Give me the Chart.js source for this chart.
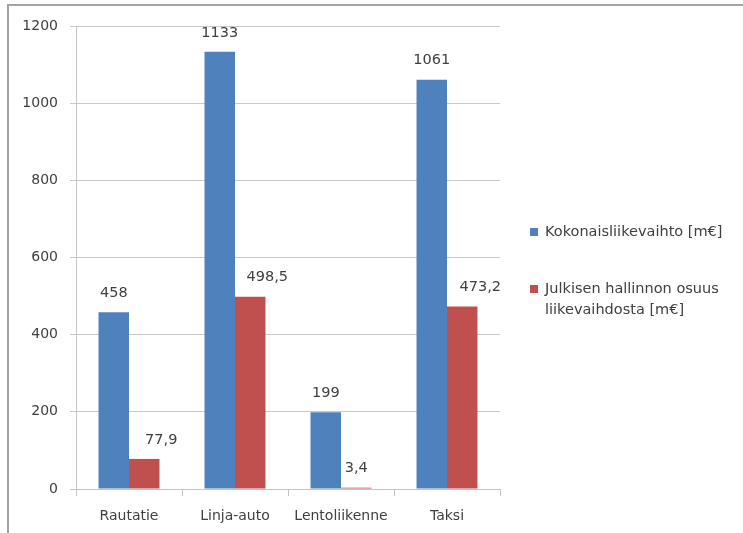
<!DOCTYPE html>
<html>
<head>
<meta charset="utf-8">
<script src="https://cdn.jsdelivr.net/npm/chart.js@4"></script>
<style>
  html, body { margin: 0; padding: 0; background: #ffffff; overflow: hidden; width: 743px; height: 533px; }
  #frame {
    position: absolute; left: 7px; top: 4px; right: 0; bottom: 0;
    border-top: 2px solid #a3a3a3; border-left: 2px solid #a3a3a3;
  }
  #c { position: absolute; left: 0; top: 0; }
</style>
</head>
<body>
<div id="frame"></div>
<canvas id="c" width="743" height="533"></canvas>
<script>
// Liikennemuodot ja niiden liikevaihto (milj. €)
const categories = ['Rautatie', 'Linja-auto', 'Lentoliikenne', 'Taksi'];
const totalRevenue = [458, 1133, 199, 1061];
const publicShare = [77.9, 498.5, 3.4, 473.2];
const seriesNames = ['Kokonaisliikevaihto [m€]', 'Julkisen hallinnon osuus liikevaihdosta [m€]'];
const yTicks = [0, 200, 400, 600, 800, 1000, 1200];

const BLUE = '#4f81bd';
const RED = '#c0504d';
const TEXT = '#404040';
const FONT = 'DejaVu Sans';

// horizontal nudge of the value labels, per series and category
const labelShift = [[0, 0, 0, 0], [17, 17, 0, 18]];

const fmt = v => String(v).replace('.', ',');

const valueLabels = {
  id: 'valueLabels',
  afterDatasetsDraw(chart) {
    const ctx = chart.ctx;
    ctx.save();
    ctx.font = '14.5px "' + FONT + '"';
    ctx.fillStyle = TEXT;
    ctx.textAlign = 'center';
    ctx.textBaseline = 'middle';
    chart.data.datasets.forEach((ds, i) => {
      chart.getDatasetMeta(i).data.forEach((bar, j) => {
        ctx.fillText(fmt(ds.data[j]), bar.x + labelShift[i][j], bar.y - 19);
      });
    });
    ctx.restore();
  }
};

const sideLegend = {
  id: 'sideLegend',
  afterDraw(chart) {
    const ctx = chart.ctx;
    const area = chart.chartArea;
    const x0 = area.right + 30;
    const tx = x0 + 15;
    const maxW = chart.width - tx - 8;
    const lineH = 21;
    const rowTops = [232, 289];
    ctx.save();
    ctx.font = '14.5px "' + FONT + '"';
    ctx.textAlign = 'left';
    ctx.textBaseline = 'middle';
    chart.data.datasets.forEach((ds, i) => {
      // word-wrap the series name
      const words = ds.label.split(' ');
      const lines = [];
      let cur = '';
      words.forEach(w => {
        const t = cur ? cur + ' ' + w : w;
        if (ctx.measureText(t).width > maxW && cur) { lines.push(cur); cur = w; }
        else cur = t;
      });
      if (cur) lines.push(cur);
      const y = rowTops[i];
      ctx.fillStyle = ds.backgroundColor;
      ctx.fillRect(x0, y - 4, 8, 8);
      ctx.fillStyle = TEXT;
      lines.forEach((ln, k) => ctx.fillText(ln, tx, y + k * lineH));
    });
    ctx.restore();
  }
};

new Chart(document.getElementById('c'), {
  type: 'bar',
  data: {
    labels: categories,
    datasets: [
      { label: seriesNames[0], data: totalRevenue, backgroundColor: BLUE },
      { label: seriesNames[1], data: publicShare, backgroundColor: RED }
    ]
  },
  options: {
    responsive: false,
    devicePixelRatio: 1,
    animation: false,
    layout: { padding: { left: 0, right: 243, top: 26, bottom: 0 } },
    datasets: { bar: { categoryPercentage: 0.575, barPercentage: 1.0, borderWidth: 0 } },
    plugins: {
      legend: { display: false },
      tooltip: { enabled: false }
    },
    scales: {
      x: {
        offset: true,
        grid: { display: true, drawOnChartArea: false, drawTicks: true, tickLength: 7, color: '#c4c4c4', offset: true },
        border: { color: '#c4c4c4', width: 1 },
        ticks: { color: TEXT, font: { family: FONT, size: 14 }, padding: 12, maxRotation: 0 },
        afterFit(s) { s.height = 44; }
      },
      y: {
        min: 0,
        max: 1200,
        afterBuildTicks(s) { s.ticks = yTicks.map(v => ({ value: v })); },
        grid: { color: '#c8c8c8', tickLength: 6, lineWidth: 1 },
        border: { color: '#c4c4c4', width: 1 },
        ticks: { color: TEXT, font: { family: FONT, size: 14 }, padding: 12, callback: v => String(v) },
        afterFit(s) { s.width = 76; }
      }
    }
  },
  plugins: [valueLabels, sideLegend]
});
</script>
</body>
</html>
